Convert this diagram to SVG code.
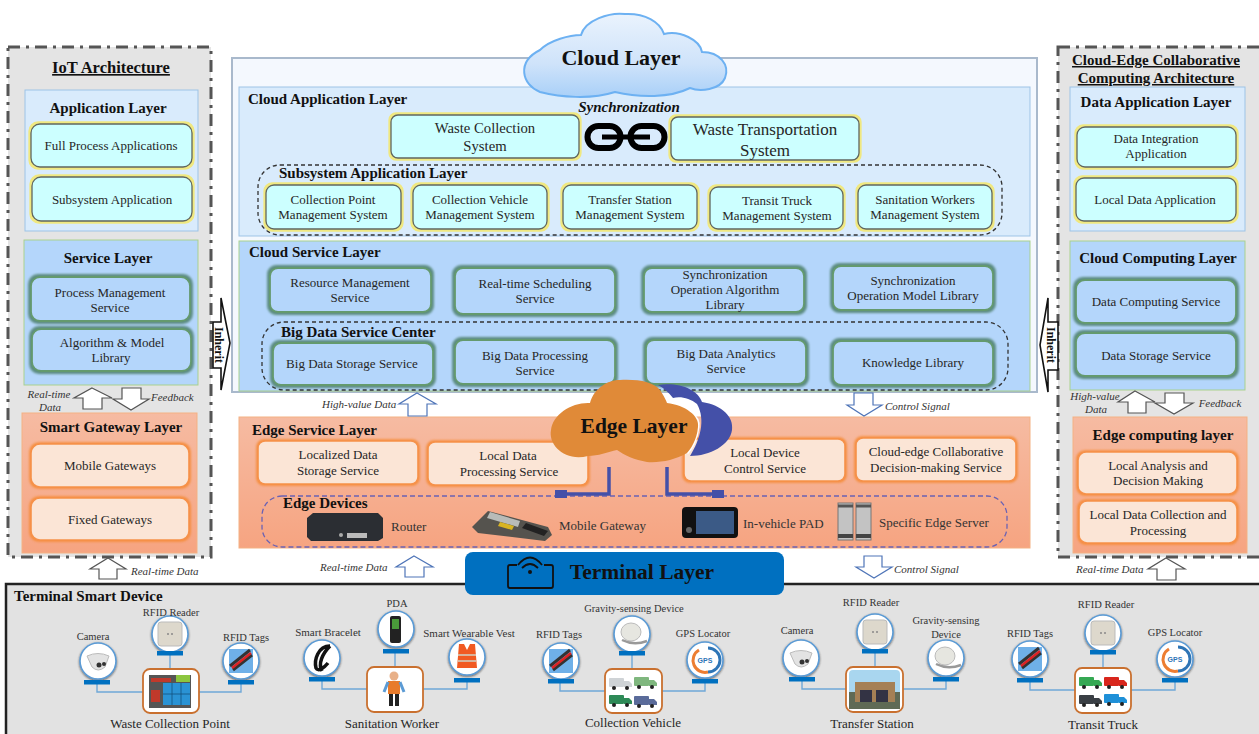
<svg xmlns="http://www.w3.org/2000/svg" width="1259" height="734" viewBox="0 0 1259 734">
<style>
text{font-family:"Liberation Serif","Times New Roman",serif;fill:#262626}
.c{text-anchor:middle}
.t{font-size:13px}
.h{font-size:15px;font-weight:bold;fill:#111}
.h2{font-size:15px;font-weight:bold;fill:#111}
.u{text-decoration:underline}
.i{font-size:11px;font-style:italic;fill:#333}
.d{font-size:10.5px;fill:#333}
.n{font-size:13px;fill:#333}
.pan{fill:#e4e4e4;stroke:#555;stroke-width:3;stroke-dasharray:12 6 3 6}
.app{fill:#d9ebfc;stroke:#9dc3e6;stroke-width:1}
.svc{fill:#b4d6fb;stroke:#a9d18e;stroke-width:1}
.edge{fill:url(#eg);stroke:#f4b183;stroke-width:1}
.y{fill:#ccffff;stroke:#5f6660;stroke-width:1.3;filter:url(#gy)}
.g{fill:#b4d6fb;stroke:#649a6e;stroke-width:1.8;filter:url(#gg)}
.o{fill:#fbe5d6;stroke:#f6914a;stroke-width:1.6;filter:url(#go)}
.dash{fill:none;stroke:#333;stroke-width:1.3;stroke-dasharray:4 3}
.dashb{fill:none;stroke:#6a62b4;stroke-width:1.3;stroke-dasharray:5 3}
.ar{fill:#fff;stroke:#555;stroke-width:1.2}
.ab{fill:#fff;stroke:#4f75b8;stroke-width:1.2}
.inh{fill:#fff;stroke:#111;stroke-width:1.6}
.ln{fill:none;stroke:#6fa8d8;stroke-width:1.4}
.bar{fill:#0070c0}
.box{fill:#fff;stroke:#c9702f;stroke-width:1.8}
.bl{fill:none;stroke:#4450a8;stroke-width:3.5}
</style>
<defs>
<linearGradient id="eg" x1="0" y1="0" x2="0" y2="1"><stop offset="0" stop-color="#f6bba2"/><stop offset="1" stop-color="#f6a481"/></linearGradient>
<linearGradient id="cg" x1="0" y1="0" x2="0" y2="1"><stop offset="0" stop-color="#eaf3fd"/><stop offset="0.6" stop-color="#cfe3fa"/><stop offset="1" stop-color="#a9d0f8"/></linearGradient>
<filter id="gy" x="-10%" y="-25%" width="120%" height="150%" color-interpolation-filters="sRGB"><feMorphology in="SourceAlpha" operator="dilate" radius="2"/><feGaussianBlur stdDeviation=".7"/><feColorMatrix values="0 0 0 0 .94 0 0 0 0 .91 0 0 0 0 .5 0 0 0 1 0"/><feMerge><feMergeNode/><feMergeNode in="SourceGraphic"/></feMerge></filter>
<filter id="gg" x="-10%" y="-25%" width="120%" height="150%" color-interpolation-filters="sRGB"><feMorphology in="SourceAlpha" operator="dilate" radius="1.5"/><feGaussianBlur stdDeviation="1.3"/><feColorMatrix values="0 0 0 0 .3 0 0 0 0 .5 0 0 0 0 .42 0 0 0 .85 0"/><feMerge><feMergeNode/><feMergeNode in="SourceGraphic"/></feMerge></filter>
<filter id="go" x="-10%" y="-25%" width="120%" height="150%" color-interpolation-filters="sRGB"><feMorphology in="SourceAlpha" operator="dilate" radius="1"/><feGaussianBlur stdDeviation="1"/><feColorMatrix values="0 0 0 0 .96 0 0 0 0 .54 0 0 0 0 .2 0 0 0 .9 0"/><feMerge><feMergeNode/><feMergeNode in="SourceGraphic"/></feMerge></filter>
<filter id="sh" x="-30%" y="-30%" width="160%" height="160%"><feDropShadow dx="0" dy="1" stdDeviation="1.200" flood-color="#222" flood-opacity=".7"/></filter>
<g id="ring"><circle r="18" fill="#fff" stroke="#5b9bd5" stroke-width="1.6" filter="url(#sh)"/></g>
<g id="cam"><use href="#ring"/><path d="M-11,-5 Q0,-10 11,-5 L7,6 Q0,12 -6,6Z" fill="#e3e3e3" stroke="#bbb"/><circle cx="1" cy="4" r="2.500" fill="#333"/><circle cx="6" cy="3" r="2" fill="#333"/></g>
<g id="rdr"><use href="#ring"/><rect x="-12" y="-12" width="24" height="24" rx="3" fill="#ddd8cc" stroke="#bbb"/><circle cx="-2" cy="0" r="1" fill="#888"/><circle cx="2" cy="0" r="1" fill="#888"/></g>
<g id="tag"><use href="#ring"/><rect x="-12" y="-12" width="24" height="24" fill="#6fb0e8"/><path d="M-11,5 L9,-11M-8,9 L11,-6" stroke="#333" stroke-width="3"/><path d="M-9,7 L10,-8" stroke="#d22" stroke-width="2.500"/></g>
<g id="gps"><use href="#ring"/><path d="M3,-12 A12,12 0 0 1 3,12" fill="none" stroke="#2e75b6" stroke-width="3"/><path d="M3,12 A12,12 0 0 1 -6,-10" fill="none" stroke="#ed7d31" stroke-width="3"/><text x="0" y="3" class="c" style="font-family:'Liberation Sans',sans-serif;font-size:7px;font-weight:bold;fill:#2e75b6">GPS</text></g>
<g id="grv"><use href="#ring"/><ellipse cx="-1" cy="-2" rx="10" ry="9" fill="#e6e6e0" stroke="#bbb"/><path d="M-10,6 Q2,12 15,7" fill="none" stroke="#999" stroke-width="2.500"/></g>
<g id="trk"><rect x="0" y="0" width="15" height="9" rx="1"/><path d="M15,3H20L23,6V9H15Z"/><circle cx="5" cy="10" r="2" fill="#222"/><circle cx="18" cy="10" r="2" fill="#222"/></g>
</defs>

<rect x="0" y="0" width="1259" height="734" fill="#fff"/>

<g id="iot-architecture">
<rect class="pan" x="8" y="47" width="203" height="510"/>
<text class="c u" x="111" y="73" style="font-size:16.5px;font-weight:bold;fill:#111">IoT Architecture</text>
</g>
<g id="application-layer">
<rect class="app" x="25" y="90" width="173" height="141"/>
<text class="h c" x="108" y="113">Application Layer</text>
<rect class="y" x="31" y="124" width="161" height="43" rx="9"/>
<text class="t c" x="111" y="150">Full Process Applications</text>
<rect class="y" x="32" y="177" width="160" height="44" rx="9"/>
<text class="t c" x="112" y="204">Subsystem Application</text>
</g>
<g id="service-layer">
<rect class="svc" x="24" y="240" width="174" height="145"/>
<text class="h c" x="108" y="263">Service Layer</text>
<rect class="g" x="31" y="277" width="159" height="44" rx="9"/>
<text class="t c" x="110" y="297">Process Management</text>
<text class="t c" x="110" y="312">Service</text>
<rect class="g" x="32" y="329" width="159" height="42" rx="9"/>
<text class="t c" x="112" y="347">Algorithm &amp; Model</text>
<text class="t c" x="111" y="362">Library</text>
</g>
<g id="smart-gateway-layer">
<rect class="edge" x="22" y="413" width="175" height="140"/>
<text class="h c" x="111" y="432">Smart Gateway Layer</text>
<rect class="o" x="31" y="444" width="158" height="43" rx="9"/>
<text class="t c" x="110" y="470">Mobile Gateways</text>
<rect class="o" x="31" y="498" width="158" height="42" rx="9"/>
<text class="t c" x="110" y="524">Fixed Gateways</text>
</g>

<g id="cloud-panel"><rect x="232" y="58" width="805" height="334" fill="#f4f8fe" stroke="#a9b9cc" stroke-width="2"/></g>
<g id="cloud-application-layer">
<rect class="app" x="239" y="87" width="791" height="149"/>
<text class="h" x="248" y="104">Cloud Application Layer</text>
<text class="c" x="629" y="112" style="font-size:15px;font-weight:bold;font-style:italic;fill:#111">Synchronization</text>
<rect class="y" x="391" y="115" width="188" height="43" rx="7"/>
<text class="c" x="485" y="133" style="font-size:14.7px">Waste Collection</text>
<text class="c" x="485" y="151" style="font-size:14.7px">System</text>
<rect class="y" x="671" y="117" width="188" height="43" rx="7"/>
<text class="c" x="765" y="135" style="font-size:17px">Waste Transportation</text>
<text class="c" x="765" y="156" style="font-size:17px">System</text>
<g fill="none" stroke="#000"><rect x="587.500" y="126" width="33" height="22" rx="11" stroke-width="6"/><rect x="630.500" y="126" width="34" height="22" rx="11" stroke-width="6"/><path d="M602,137H650" stroke-width="5"/></g>
</g>
<g id="subsystem-application-layer">
<rect class="dash" x="258" y="165" width="744" height="70" rx="22"/>
<text class="h2" x="279" y="178">Subsystem Application Layer</text>
<rect class="y" x="266" y="185" width="135" height="44" rx="8"/>
<text class="t c" x="333" y="204">Collection Point</text>
<text class="t c" x="333" y="219">Management System</text>
<rect class="y" x="413" y="185" width="134" height="44" rx="8"/>
<text class="t c" x="480" y="204">Collection Vehicle</text>
<text class="t c" x="480" y="219">Management System</text>
<rect class="y" x="563" y="185" width="134" height="44" rx="8"/>
<text class="t c" x="630" y="204">Transfer Station</text>
<text class="t c" x="630" y="219">Management System</text>
<rect class="y" x="710" y="187" width="133" height="42" rx="8"/>
<text class="t c" x="777" y="205">Transit Truck</text>
<text class="t c" x="777" y="220">Management System</text>
<rect class="y" x="858" y="185" width="134" height="44" rx="8"/>
<text class="t c" x="925" y="204">Sanitation Workers</text>
<text class="t c" x="925" y="219">Management System</text>
</g>
<g id="cloud-service-layer">
<rect class="svc" x="239" y="241" width="791" height="150"/>
<text class="h" x="249" y="257">Cloud Service Layer</text>
<rect class="g" x="270" y="268" width="161" height="44" rx="8"/>
<text class="t c" x="350" y="287">Resource Management</text>
<text class="t c" x="350" y="302">Service</text>
<rect class="g" x="455" y="268" width="160" height="46" rx="8"/>
<text class="t c" x="535" y="288">Real-time Scheduling</text>
<text class="t c" x="535" y="303">Service</text>
<rect class="g" x="644" y="268" width="160" height="44" rx="8"/>
<text class="t c" x="725" y="279">Synchronization</text>
<text class="t c" x="725" y="294">Operation Algorithm</text>
<text class="t c" x="725" y="309">Library</text>
<rect class="g" x="833" y="266" width="160" height="44" rx="8"/>
<text class="t c" x="913" y="285">Synchronization</text>
<text class="t c" x="913" y="300">Operation Model Library</text>
</g>
<g id="big-data-service-center">
<rect class="dash" x="262" y="322" width="746" height="68" rx="22"/>
<text class="h2" x="281" y="337">Big Data Service Center</text>
<rect class="g" x="273" y="343" width="160" height="42" rx="8"/>
<text class="t c" x="352" y="368">Big Data Storage Service</text>
<rect class="g" x="455" y="340" width="160" height="44" rx="8"/>
<text class="t c" x="535" y="360">Big Data Processing</text>
<text class="t c" x="535" y="375">Service</text>
<rect class="g" x="646" y="340" width="160" height="44" rx="8"/>
<text class="t c" x="726" y="358">Big Data Analytics</text>
<text class="t c" x="726" y="373">Service</text>
<rect class="g" x="833" y="341" width="160" height="44" rx="8"/>
<text class="t c" x="913" y="367">Knowledge Library</text>
</g>
<g id="cloud-layer">
<path d="M540,92C522,85 516,62 540,50C550,40 570,35 581,35C585,20 610,12 625,14C645,13 660,22 664,34C680,30 700,40 702,52C720,52 730,65 725,78C720,90 700,92 690,88C670,98 640,98 615,92C590,100 560,97 540,92Z" fill="url(#cg)" stroke="#6db1f2" stroke-width="2"/>
<text class="c" x="621" y="65" style="font-size:22px;font-weight:bold;fill:#111">Cloud Layer</text>
</g>

<g id="edge-service-layer">
<rect class="edge" x="239" y="417" width="791" height="131"/>
<text class="h" x="252" y="435">Edge Service Layer</text>
<rect class="o" x="258" y="441" width="160" height="43" rx="7"/>
<text class="t c" x="338" y="459">Localized Data</text>
<text class="t c" x="338" y="475">Storage Service</text>
<rect class="o" x="428" y="442" width="160" height="43" rx="7"/>
<text class="t c" x="508" y="460">Local Data</text>
<text class="t c" x="509" y="476">Processing Service</text>
<rect class="o" x="684" y="439" width="161" height="42" rx="7"/>
<text class="t c" x="765" y="457">Local Device</text>
<text class="t c" x="765" y="473">Control Service</text>
<rect class="o" x="856" y="438" width="160" height="43" rx="7"/>
<text class="t c" x="936" y="456">Cloud-edge Collaborative</text>
<text class="t c" x="936" y="472">Decision-making Service</text>
</g>
<g id="edge-devices">
<rect class="dashb" x="262" y="496" width="745" height="51" rx="20"/>
<text class="h2" x="283" y="508">Edge Devices</text>
<g id="router"><path d="M313,513H378L383,518V538L378,541H311L307,537V518Z" fill="#2b2e33"/><rect x="347" y="533" width="20" height="5" fill="#bbb"/><circle cx="341" cy="535" r="2" fill="#aaa"/><text class="n" x="391" y="531">Router</text></g>
<g id="mobile-gateway"><path d="M472,527L488,511L548,527L552,535L545,541L478,533Z" fill="#55534e"/><path d="M490,512L520,521L518,527L487,518Z" fill="#b8bbb8"/><path d="M500,522L514,526L512,530L498,526Z" fill="#d8b422"/><path d="M526,523L548,531L544,536L522,528Z" fill="#222"/><text class="n" x="559" y="530">Mobile Gateway</text></g>
<g id="in-vehicle-pad"><rect x="682" y="507" width="56" height="31" rx="4" fill="#111"/><rect x="696" y="511" width="38" height="23" fill="#3b5a86"/><circle cx="689" cy="530" r="3" fill="#666"/><text class="n" x="743" y="528">In-vehicle PAD</text></g>
<g id="edge-server"><rect x="838" y="503" width="15" height="37" fill="#c3c3c3" stroke="#777"/><rect x="856" y="503" width="15" height="37" fill="#c3c3c3" stroke="#777"/><path d="M838,506H853M856,506H871" stroke="#555" stroke-width="3"/><path d="M838,536H853M856,536H871" stroke="#444" stroke-width="4"/><text class="n" x="879" y="527">Specific Edge Server</text></g>
</g>
<g id="edge-links">
<path class="bl" d="M609,467V494H560"/><rect x="555" y="490" width="12" height="8" fill="#4450a8"/>
<path class="bl" d="M667,467V494H716"/><rect x="712" y="490" width="12" height="8" fill="#4450a8"/>
</g>
<g id="edge-layer">
<path d="M658,385C680,382 698,390 702,402C722,405 734,417 732,430C730,445 710,456 690,456C700,440 706,420 697,404C690,398 680,396 673,398C668,392 664,388 658,385Z" fill="#4450a8"/>
<path d="M667,403C685,405 700,416 698,427C697,440 690,450 687,453" fill="none" stroke="#fff" stroke-width="3"/>
<path d="M588,456C565,462 548,445 551,430C553,414 572,402 590,403C594,388 608,380 620,380C638,379 654,382 660,390C664,396 666,400 667,403C685,405 700,416 698,427C697,440 690,450 687,453C675,460 660,463 647,462C635,460 624,455 617,450C608,452 598,456 588,456Z" fill="#e08a38"/>
<text class="c" x="634" y="433" style="font-size:21.5px;font-weight:bold;fill:#111">Edge Layer</text>
</g>

<g id="right-panel">
<rect class="pan" x="1058" y="47" width="210" height="510"/>
<text class="h c u" x="1156" y="65">Cloud-Edge Collaborative</text>
<text class="h c u" x="1156" y="83">Computing Architecture</text>
</g>
<g id="data-application-layer">
<rect class="app" x="1070" y="87" width="175" height="144"/>
<text class="h c" x="1156" y="107">Data Application Layer</text>
<rect class="y" x="1077" y="127" width="159" height="40" rx="8"/>
<text class="t c" x="1156" y="143">Data Integration</text>
<text class="t c" x="1156" y="158">Application</text>
<rect class="y" x="1076" y="178" width="160" height="43" rx="8"/>
<text class="t c" x="1155" y="204">Local Data Application</text>
</g>
<g id="cloud-computing-layer">
<rect class="svc" x="1070" y="241" width="175" height="149"/>
<text class="h c" x="1158" y="263">Cloud Computing Layer</text>
<rect class="g" x="1076" y="280" width="160" height="43" rx="9"/>
<text class="t c" x="1156" y="306">Data Computing Service</text>
<rect class="g" x="1076" y="333" width="160" height="43" rx="9"/>
<text class="t c" x="1156" y="360">Data Storage Service</text>
</g>
<g id="edge-computing-layer">
<rect class="edge" x="1073" y="417" width="174" height="136"/>
<text class="h c" x="1163" y="440">Edge computing layer</text>
<rect class="o" x="1078" y="452" width="159" height="42" rx="8"/>
<text class="t c" x="1158" y="470">Local Analysis and</text>
<text class="t c" x="1158" y="485">Decision Making</text>
<rect class="o" x="1079" y="501" width="158" height="42" rx="8"/>
<text class="t c" x="1158" y="519">Local Data Collection and</text>
<text class="t c" x="1158" y="535">Processing</text>
</g>

<g id="terminal-smart-device">
<rect x="6" y="584" width="1262" height="160" fill="#e2e2e2" stroke="#222" stroke-width="2.500"/>
<text x="14" y="601" style="font-size:15px;font-weight:bold;fill:#111">Terminal Smart Device</text>
</g>
<g id="terminal-layer">
<rect x="465" y="552" width="319" height="43" rx="8" fill="#0070c0"/>
<path d="M517,565H510Q508,565 508,567V586Q508,588 510,588H551Q553,588 553,586V567Q553,565 551,565H544" fill="none" stroke="#111" stroke-width="1.800"/>
<path d="M518,565Q530,550 542,565M522,568Q530,560 538,568" fill="none" stroke="#111" stroke-width="1.800"/><circle cx="530" cy="572" r="2" fill="#111"/>
<text class="c" x="642" y="579" style="font-size:21.500px;font-weight:bold;fill:#111">Terminal Layer</text>
</g>

<g id="connectors">
<polygon class="ar" points="92,388 112,398 102,398 102,409 83,409 83,398 74,398"/>
<polygon class="ar" points="122,388 141,388 141,399 149,399 131,410 113,399 122,399"/>
<text class="i c" x="49" y="398">Real-time</text><text class="i c" x="50" y="411">Data</text>
<text class="i" x="151" y="401">Feedback</text>
<polygon class="ar" points="108,558 126,569 117,569 117,579 99,579 99,569 90,569"/>
<text class="i" x="131" y="575">Real-time Data</text>
<polygon class="inh" points="213,322 221,322 221,298 230,343 221,390 221,368 213,368"/>
<text transform="translate(214.500,345) rotate(90)" class="c" style="font-size:12px;font-weight:bold;fill:#111">Inherit</text>
<polygon class="inh" points="1058,322 1048,322 1048,298 1040,345 1048,392 1048,370 1058,370"/>
<text transform="translate(1047,345) rotate(90)" class="c" style="font-size:12px;font-weight:bold;fill:#111">Inherit</text>
<polygon class="ar" points="1135,391 1155,402 1146,402 1146,413 1128,413 1128,402 1118,402"/>
<polygon class="ar" points="1165,393 1184,393 1184,403 1193,403 1174,414 1155,403 1165,403"/>
<text class="i c" x="1095" y="400">High-value</text><text class="i c" x="1096" y="413">Data</text>
<text class="i c" x="1220" y="407">Feedback</text>
<polygon class="ar" points="1166,558 1185,569 1176,569 1176,580 1157,580 1157,569 1148,569"/>
<text class="i" x="1076" y="573">Real-time Data</text>
<polygon class="ab" points="417,393 436,404 427,404 427,416 408,416 408,404 399,404"/>
<text class="i" x="322" y="408">High-value Data</text>
<polygon class="ab" points="854,393 873,393 873,405 882,405 864,416 847,405 854,405"/>
<text class="i" x="885" y="410">Control Signal</text>
<polygon class="ab" points="414,556 433,567 424,567 424,577 405,577 405,567 396,567"/>
<text class="i" x="320" y="571">Real-time Data</text>
<polygon class="ab" points="864,556 882,556 882,567 892,567 874,578 856,567 864,567"/>
<text class="i" x="894" y="573">Control Signal</text>
<path class="ln" d="M97,684V692H143M170,655V669M198,692H241V684"/>
<path class="ln" d="M322,681V689H368M395,653V667M422,689H467V682"/>
<path class="ln" d="M560,683V691H606M632,655V669M661,691H705V683"/>
<path class="ln" d="M802,681V689H847M875,653V667M902,689H946V681"/>
<path class="ln" d="M1030,682V690H1076M1103,654V668M1131,690H1175V682"/>
</g>

<g id="waste-collection-point">
<use href="#cam" x="98" y="661"/><rect class="bar" x="84" y="680" width="26" height="4.500"/><text class="d c" x="93" y="640">Camera</text>
<use href="#rdr" x="170" y="634"/><rect class="bar" x="157" y="651" width="26" height="4.500"/><text class="d c" x="171" y="616">RFID Reader</text>
<use href="#tag" x="241" y="661"/><rect class="bar" x="228" y="680" width="26" height="4.500"/><text class="d c" x="246" y="641">RFID Tags</text>
<rect class="box" x="143" y="669" width="56" height="44" rx="7"/>
<rect x="149" y="675" width="42" height="33" fill="#555"/><rect x="163" y="683" width="27" height="22" fill="#2a93d5"/><path d="M172,683V705M181,683V705M163,694H190" stroke="#12507f" stroke-width=".8"/><rect x="151" y="678" width="20" height="4" fill="#c0392b"/><rect x="176" y="675" width="14" height="7" fill="#8cc63f"/><rect x="151" y="690" width="9" height="12" fill="#c0392b"/>
<text class="t c" x="170" y="728">Waste Collection Point</text>
</g>
<g id="sanitation-worker">
<use href="#ring" x="322" y="658"/><path d="M330,646C318,646 314,660 316,668C318,672 324,668 328,663M330,646C322,654 318,664 322,671" fill="none" stroke="#111" stroke-width="3.500"/><rect class="bar" x="309" y="677" width="26" height="4.500"/><text class="d c" x="328" y="636" style="font-size:11px">Smart Bracelet</text>
<use href="#ring" x="396" y="629"/><rect x="390" y="616" width="11" height="27" rx="2" fill="#222"/><rect x="392" y="619" width="7" height="10" fill="#4a9a3a"/><rect class="bar" x="383" y="649" width="26" height="4.500"/><text class="d c" x="397" y="607">PDA</text>
<use href="#ring" x="467" y="657"/><path d="M459,644H464L467,650L470,644H475L477,668H457Z" fill="#f15a22"/><path d="M458,655H476M458,661H476" stroke="#cfd3c6" stroke-width="1.500"/><rect class="bar" x="454" y="678" width="26" height="4.500"/><text class="d c" x="469" y="637" style="font-size:11px">Smart Wearable Vest</text>
<rect class="box" x="367" y="667" width="56" height="45" rx="7"/>
<circle cx="394" cy="676" r="4.500" fill="#e8b088"/><rect x="388" y="681" width="12" height="13" fill="#e87b2b"/><path d="M388,682L384,692M400,682L404,692" stroke="#5b9bd5" stroke-width="3"/><rect x="389" y="694" width="4" height="12" fill="#222"/><rect x="395" y="694" width="4" height="12" fill="#222"/>
<text class="t c" x="392" y="728">Sanitation Worker</text>
</g>
<g id="collection-vehicle">
<use href="#tag" x="561" y="661"/><rect class="bar" x="548" y="679" width="26" height="4.500"/><text class="d c" x="559" y="638">RFID Tags</text>
<use href="#grv" x="632" y="634"/><rect class="bar" x="619" y="651" width="26" height="4.500"/><text class="d c" x="634" y="612">Gravity-sensing Device</text>
<use href="#gps" x="705" y="660"/><rect class="bar" x="692" y="679" width="26" height="4.500"/><text class="d c" x="703" y="637">GPS Locator</text>
<rect class="box" x="605" y="669" width="57" height="44" rx="7"/>
<use href="#trk" x="609" y="678" fill="#cfd3d6"/><use href="#trk" x="634" y="677" fill="#7fb77e"/><use href="#trk" x="609" y="695" fill="#2e8a57"/><use href="#trk" x="634" y="696" fill="#5a6b9a"/>
<text class="t c" x="633" y="727">Collection Vehicle</text>
</g>
<g id="transfer-station">
<use href="#cam" x="801" y="658"/><rect class="bar" x="789" y="677" width="26" height="4.500"/><text class="d c" x="797" y="634">Camera</text>
<use href="#rdr" x="875" y="632"/><rect class="bar" x="862" y="649" width="26" height="4.500"/><text class="d c" x="871" y="606">RFID Reader</text>
<use href="#grv" x="946" y="658"/><rect class="bar" x="933" y="677" width="26" height="4.500"/><text class="d c" x="946" y="624">Gravity-sensing</text><text class="d c" x="946" y="638">Device</text>
<rect class="box" x="846" y="667" width="57" height="45" rx="7"/>
<rect x="849" y="670" width="51" height="39" rx="4" fill="#a9d6ef"/><rect x="849" y="692" width="51" height="17" fill="#5f6a55"/><rect x="855" y="682" width="40" height="20" fill="#a58055"/><rect x="860" y="690" width="12" height="12" fill="#334"/><rect x="876" y="690" width="12" height="12" fill="#334"/>
<text class="t c" x="872" y="728">Transfer Station</text>
</g>
<g id="transit-truck">
<use href="#tag" x="1030" y="659"/><rect class="bar" x="1017" y="678" width="26" height="4.500"/><text class="d c" x="1030" y="637">RFID Tags</text>
<use href="#rdr" x="1103" y="633"/><rect class="bar" x="1090" y="650" width="26" height="4.500"/><text class="d c" x="1106" y="608">RFID Reader</text>
<use href="#gps" x="1175" y="659"/><rect class="bar" x="1162" y="678" width="26" height="4.500"/><text class="d c" x="1175" y="636">GPS Locator</text>
<rect class="box" x="1075" y="668" width="56" height="45" rx="7"/>
<use href="#trk" x="1079" y="677" fill="#35a853"/><use href="#trk" x="1104" y="677" fill="#d8261c"/><use href="#trk" x="1079" y="695" fill="#3a3f45"/><use href="#trk" x="1104" y="694" fill="#1e90d8"/>
<text class="t c" x="1103" y="729">Transit Truck</text>
</g>
</svg>
